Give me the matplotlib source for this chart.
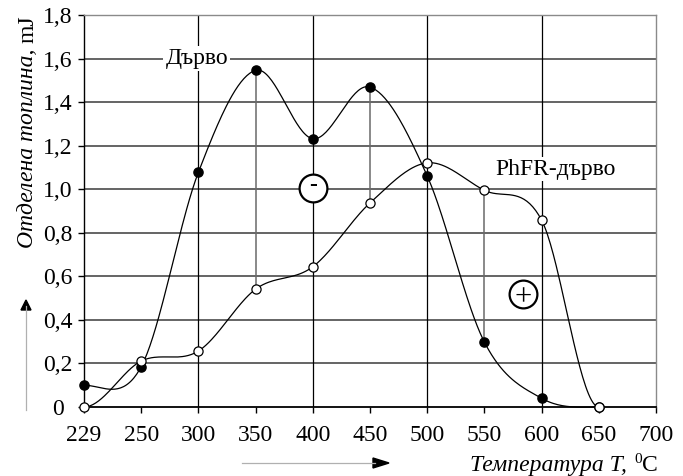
import numpy as np
import matplotlib
matplotlib.use('Agg')
import matplotlib.pyplot as plt
from matplotlib.lines import Line2D
from matplotlib.patches import Polygon

# ---------------- data ----------------
categories = ['229', '250', '300', '350', '400', '450', '500', '550', '600', '650', '700']
wood = [0.10, 0.185, 1.078, 1.546, 1.232, 1.469, 1.061, 0.298, 0.040, 0.0]
phfr = [0.0, 0.211, 0.257, 0.541, 0.644, 0.937, 1.121, 0.995, 0.858, 0.0]
yticks = [0.0, 0.2, 0.4, 0.6, 0.8, 1.0, 1.2, 1.4, 1.6, 1.8]
ytick_labels = ['0', '0,2', '0,4', '0,6', '0,8', '1,0', '1,2', '1,4', '1,6', '1,8']
xgrid_cats = ['300', '400', '500', '600']
diff_cats = ['350', '450', '550']
name_wood = 'Дърво'
name_phfr = 'PhFR-дърво'
ylabel_it = 'Отделена топлина, '
ylabel_unit = 'mJ'
xlabel_it = 'Температура T, '

FONT = 'Liberation Serif'
FS = 17

W, H = 683, 476
fig = plt.figure(figsize=(W / 100, H / 100), dpi=100)

def P(x, y):
    return (x / W, 1 - y / H)

L, R, T, B = 84, 656, 15, 407
ax = fig.add_axes([L / W, 1 - B / H, (R - L) / W, (B - T) / H])

xi = np.arange(len(categories))
ax.set_xlim(0, len(categories) - 1)
ax.set_ylim(0, 1.8)


def smooth(xs, ys, n=40):
    Pt = np.column_stack([xs, ys]).astype(float)
    m = len(Pt)
    out = []
    for i in range(m - 1):
        p1 = Pt[i]
        p2 = Pt[i + 1]
        if i > 0:
            c1 = p1 + (p2 - Pt[i - 1]) / 6
        else:
            c1 = p1 + np.array([(p2 - p1)[0] / 3, 0.0])
        if i + 2 < m:
            c2 = p2 - (Pt[i + 2] - p1) / 6
        else:
            c2 = p2 - np.array([(p2 - p1)[0] / 3, 0.0])
        t = np.linspace(0, 1, n)[:, None]
        seg = (1 - t) ** 3 * p1 + 3 * (1 - t) ** 2 * t * c1 + 3 * (1 - t) * t ** 2 * c2 + t ** 3 * p2
        out.append(seg if i == 0 else seg[1:])
    return np.vstack(out)

# grid lines
for yv in yticks[1:-1]:
    ax.axhline(yv, color='#3a3a3a', lw=1.1, zorder=1)
for c in xgrid_cats:
    ax.axvline(categories.index(c), color='black', lw=0.9, zorder=1)

# difference lines
for c in diff_cats:
    k = categories.index(c)
    ax.plot([k, k], [phfr[k], wood[k]], color='#6a6a6a', lw=1.1, zorder=2)

xw = xi[:len(wood)]
sw = smooth(xw, wood)
sp = smooth(xi[:len(phfr)], phfr)
ax.plot(sw[:, 0], sw[:, 1], color='black', lw=0.9, zorder=3, clip_on=False)
ax.plot(xw, wood, 'o', color='black', ms=6.6, zorder=4, clip_on=False)
ax.plot(sp[:, 0], sp[:, 1], color='black', lw=0.9, zorder=5, clip_on=False)
ax.plot(xi[:len(phfr)], phfr, 'o', mfc='white', mec='black', mew=0.9, ms=6.6, zorder=6, clip_on=False)

# circled signs
ax.plot([4], [1.005], 'o', ms=20, mfc='white', mec='black', mew=1.6, zorder=7)
ax.text(4, 1.015, '-', fontsize=17, fontweight='bold', family=FONT, ha='center', va='center', zorder=8)
ax.plot([7.67], [0.518], 'o', ms=20, mfc='white', mec='black', mew=1.6, zorder=7)
ax.text(7.67, 0.500, '+', fontsize=22, family=FONT, ha='center', va='center', zorder=8)

# series names
ax.text(1.97, 1.6, name_wood, fontsize=FS, family=FONT, ha='center', va='center', zorder=7,
        bbox=dict(facecolor='white', edgecolor='none', pad=1.5))
ax.text(8.25, 1.092, name_phfr, fontsize=FS, family=FONT, ha='center', va='center', zorder=7,
        bbox=dict(facecolor='white', edgecolor='none', pad=1.0))

# axes styling
ax.set_xticks(xi)
ax.set_xticklabels(categories, fontsize=FS, family=FONT)
ax.set_yticks(yticks)
ax.set_yticklabels(ytick_labels, fontsize=FS, family=FONT, ha='center', va='center_baseline')
ax.tick_params(axis='x', direction='out', length=4, width=1, pad=9)
ax.tick_params(axis='y', direction='out', length=4, width=1, pad=15)
ax.spines['left'].set_color('black')
ax.spines['bottom'].set_color('black')
ax.spines['bottom'].set_linewidth(1.3)
ax.spines['left'].set_linewidth(1.0)
for s in ('top', 'right'):
    ax.spines[s].set_color('#8a8a8a')
    ax.spines[s].set_linewidth(1.0)

# arrows
fig.add_artist(Line2D([P(26, 0)[0]] * 2, [P(0, 410)[1], P(0, 306)[1]], color='#b0b0b0', lw=0.9))
fig.add_artist(Polygon([P(21, 310), P(31, 310), P(26, 300)], closed=True, color='black'))
fig.add_artist(Line2D([P(242, 0)[0], P(375, 0)[0]], [P(0, 463)[1]] * 2, color='#b0b0b0', lw=0.9))
fig.add_artist(Polygon([P(373, 458), P(373, 468), P(389, 463)], closed=True, color='black'))

# composite labels
fig.canvas.draw()
r = fig.canvas.get_renderer()

tC = fig.text(*P(658, 471), 'C', fontsize=FS, family=FONT, ha='right', va='baseline')
bb = tC.get_window_extent(r)
t0 = fig.text(bb.x0 / W - 0.5 / W, P(0, 463)[1], '0', fontsize=11, family=FONT, ha='right', va='baseline')
bb0 = t0.get_window_extent(r)
fig.text(bb0.x0 / W - 1 / W, P(0, 471)[1], xlabel_it, fontsize=FS, family=FONT, style='italic',
         ha='right', va='baseline')

ty = fig.text(*P(33, 248), ylabel_it, fontsize=FS, family=FONT, style='italic', rotation=90,
              rotation_mode='anchor', ha='left', va='baseline')
bby = ty.get_window_extent(r)
fig.text(33 / W, bby.y1 / H, ylabel_unit, fontsize=FS, family=FONT, rotation=90,
         rotation_mode='anchor', ha='left', va='baseline')

fig.savefig('out.png', dpi=100)
